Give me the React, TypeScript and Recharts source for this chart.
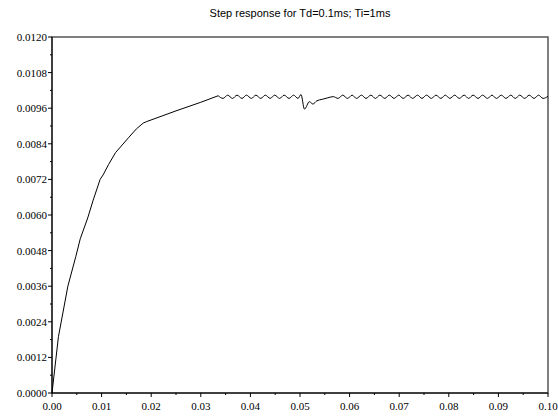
import { LineChart, Line, XAxis, YAxis, ReferenceArea } from 'recharts';

// step response samples (time in s, output value)
const riseTimes = [
  0, 0.0013, 0.0032, 0.0048, 0.0057, 0.0072, 0.0083, 0.0097, 0.0103, 0.0114,
  0.0128, 0.0154, 0.017, 0.0184, 0.0191, 0.025, 0.03, 0.0335,
];
const riseValues = [
  0, 0.0019, 0.0036, 0.0046, 0.0052, 0.0059, 0.0065, 0.0072, 0.00735, 0.0077,
  0.0081, 0.0086, 0.0089, 0.0091, 0.00915, 0.00951, 0.0098, 0.01002,
];

const settleTimes = [
  0.0345, 0.0354, 0.0364, 0.0373, 0.0383, 0.0392, 0.0402, 0.0411, 0.0421,
  0.043, 0.044, 0.0449, 0.0459, 0.0468, 0.0478, 0.0487, 0.0496, 0.0502,
  0.0509, 0.0519, 0.0526, 0.0534, 0.0545, 0.0556, 0.0567,
  0.0577, 0.0586, 0.0596, 0.0605, 0.0614, 0.0624, 0.0633, 0.0643, 0.0652,
  0.0661, 0.0671, 0.068, 0.069, 0.0699, 0.0708, 0.0718, 0.0727, 0.0737,
  0.0746, 0.0755, 0.0765, 0.0774, 0.0784, 0.0793, 0.0802, 0.0812, 0.0821,
  0.0831, 0.084, 0.0849, 0.0859, 0.0868, 0.0878, 0.0887, 0.0896, 0.0906,
  0.0915, 0.0925, 0.0934, 0.0943, 0.0953, 0.0962, 0.0972, 0.0981, 0.099,
  0.1,
];
const settleValues = [
  0.00993, 0.01004, 0.00993, 0.01004, 0.00993, 0.01004, 0.00993, 0.01004, 0.00993,
  0.01004, 0.00993, 0.01004, 0.00993, 0.01004, 0.00993, 0.01004, 0.00993, 0.01006,
  0.00957, 0.00982, 0.00974, 0.00985, 0.0099, 0.00995, 0.00999,
  0.00993, 0.01004, 0.00993, 0.01004, 0.00993, 0.01004, 0.00993, 0.01004, 0.00993,
  0.01004, 0.00993, 0.01004, 0.00993, 0.01004, 0.00993, 0.01004, 0.00993, 0.01004,
  0.00993, 0.01004, 0.00993, 0.01004, 0.00993, 0.01004, 0.00993, 0.01004, 0.00993,
  0.01004, 0.00993, 0.01004, 0.00993, 0.01004, 0.00993, 0.01004, 0.00993, 0.01004,
  0.00993, 0.01004, 0.00993, 0.01004, 0.00993, 0.01004, 0.00993, 0.01004, 0.00993,
  0.01,
];

const xMajor = [0, 0.01, 0.02, 0.03, 0.04, 0.05, 0.06, 0.07, 0.08, 0.09, 0.1];
const xMinor = [0.005, 0.015, 0.025, 0.035, 0.045, 0.055, 0.065, 0.075, 0.085, 0.095];
const yMajor = [0, 0.0012, 0.0024, 0.0036, 0.0048, 0.006, 0.0072, 0.0084, 0.0096, 0.0108, 0.012];
const yMinor = [0.0006, 0.0018, 0.003, 0.0042, 0.0054, 0.0066, 0.0078, 0.009, 0.0102, 0.0114];

const lastRise = riseTimes.length - 1;
const data = [
  ...riseTimes.map((t, i) => ({
    t,
    rise: riseValues[i],
    settle: i === lastRise ? riseValues[i] : undefined,
  })),
  ...settleTimes.map((t, i) => ({ t, settle: settleValues[i] })),
];

const labelFont = { fontFamily: '"Liberation Serif", serif', fontSize: 11 };

const YTick = (props: any) => {
  const { x, y, payload } = props;
  const major = yMajor.includes(payload.value);
  return (
    <g>
      <line x1={x - (major ? 4 : 2)} x2={x} y1={y} y2={y} stroke="#000" />
      {major && (
        <text x={x - 5} y={y} dy={4} textAnchor="end" fill="#000" style={labelFont}>
          {payload.value.toFixed(4)}
        </text>
      )}
    </g>
  );
};

const XTick = (props: any) => {
  const { x, y, payload } = props;
  const major = xMajor.includes(payload.value);
  return (
    <g>
      <line x1={x} x2={x} y1={y} y2={y + (major ? 4 : 2)} stroke="#000" />
      {major && (
        <text x={x} y={y + 17} textAnchor="middle" fill="#000" style={labelFont}>
          {payload.value.toFixed(2)}
        </text>
      )}
    </g>
  );
};

export default function App() {
  return (
    <div style={{ position: 'absolute', left: 0, top: 0, width: 558, height: 419, background: '#fff' }}>
      <style>{'body{margin:0}'}</style>
      <div
        style={{
          position: 'absolute',
          top: 7,
          left: 0,
          width: 600,
          textAlign: 'center',
          fontFamily: '"Liberation Sans", Arial, sans-serif',
          fontSize: 11,
          color: '#000',
        }}
      >
        Step response for Td=0.1ms; Ti=1ms
      </div>
      <LineChart
        width={558}
        height={419}
        data={data}
        margin={{ top: 37, right: 10, left: 0, bottom: 0 }}
      >
        <XAxis
          dataKey="t"
          type="number"
          domain={[0, 0.1]}
          ticks={[...xMajor, ...xMinor].sort((a, b) => a - b)}
          interval={0}
          height={26}
          tickSize={0}
          tickMargin={0}
          tickLine={false}
          axisLine={{ stroke: '#000' }}
          tick={<XTick />}
        />
        <YAxis
          type="number"
          domain={[0, 0.012]}
          ticks={[...yMajor, ...yMinor].sort((a, b) => a - b)}
          interval={0}
          width={52}
          tickSize={0}
          tickMargin={0}
          tickLine={false}
          axisLine={{ stroke: '#000' }}
          tick={<YTick />}
        />
        <ReferenceArea x1={0} x2={0.1} y1={0} y2={0.012} fill="none" stroke="#555" strokeWidth={1.5} />
        <Line
          type="linear"
          dataKey="rise"
          stroke="#000"
          strokeWidth={1}
          dot={false}
          isAnimationActive={false}
        />
        <Line
          type="monotone"
          dataKey="settle"
          stroke="#000"
          strokeWidth={1}
          dot={false}
          isAnimationActive={false}
        />
      </LineChart>
    </div>
  );
}
